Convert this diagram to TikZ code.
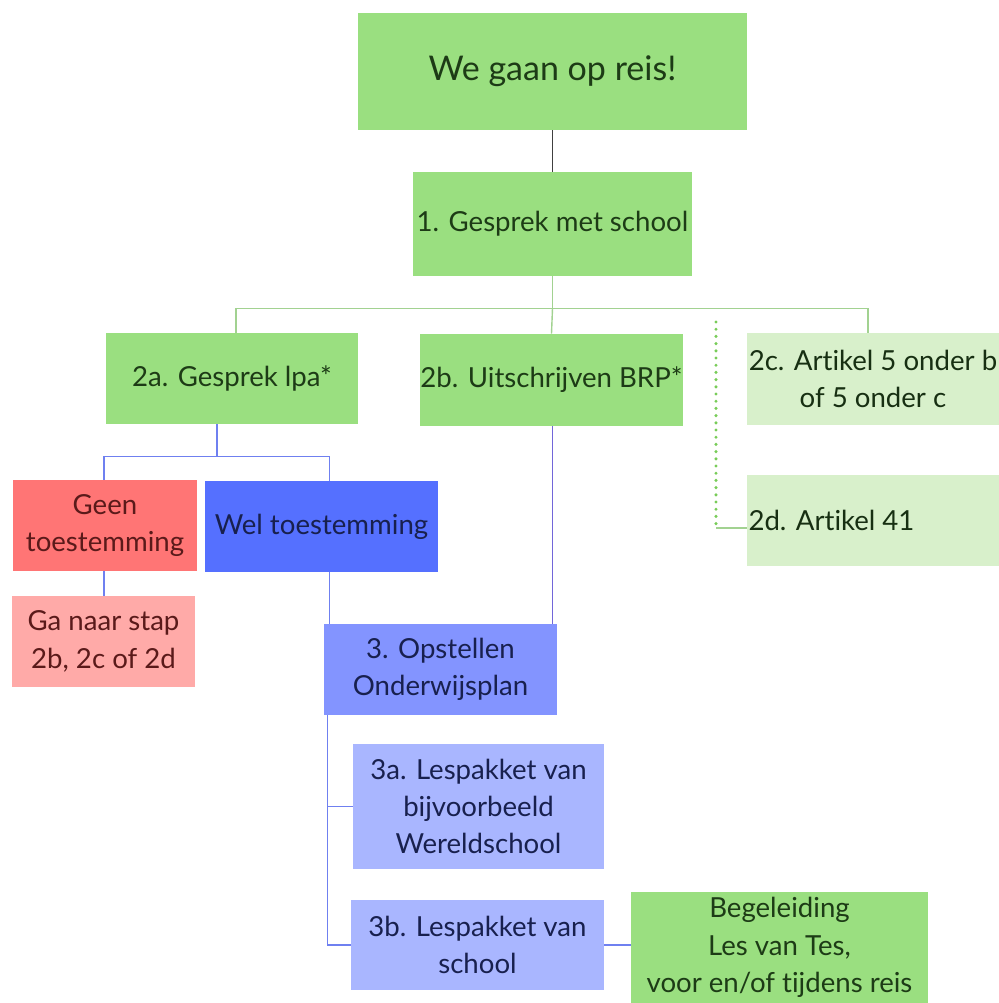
\documentclass[tikz,border=0pt]{standalone}
\usepackage{fontspec}
\setmainfont[Ligatures=NoCommon]{Lato}
\usepackage{tikz}
\usetikzlibrary{positioning,calc}
\usepackage{xcolor}

\definecolor{boxgreen}{HTML}{9ADF80}
\definecolor{palegreen}{HTML}{D8F0CB}
\definecolor{boxred}{HTML}{FF7575}
\definecolor{boxpink}{HTML}{FFAAA8}
\definecolor{boxblue}{HTML}{5570FF}
\definecolor{midblue}{HTML}{8394FF}
\definecolor{lightblue}{HTML}{A9B6FF}
\definecolor{txtgreen}{HTML}{1D3B16}
\definecolor{txtred}{HTML}{5A1A1A}
\definecolor{txtblue}{HTML}{18204E}
\definecolor{lnkgreen}{HTML}{A2D291}
\definecolor{lnkblue}{HTML}{6F80F0}
\definecolor{dotgreen}{HTML}{78CC58}

\tikzset{
  box/.style={rectangle, inner sep=0pt, align=center, font=\fontsize{13.8}{18.7}\selectfont},
  greenbox/.style={box, fill=boxgreen, text=txtgreen},
  paleboxx/.style={box, fill=palegreen, text=txtgreen!80!black},
  redbox/.style={box, fill=boxred, text=txtred},
  pinkbox/.style={box, fill=boxpink, text=txtred},
  bluebox/.style={box, fill=boxblue, text=txtblue},
  midbox/.style={box, fill=midblue, text=txtblue},
  lightbox/.style={box, fill=lightblue, text=txtblue},
  greenline/.style={draw=lnkgreen, line width=0.7pt},
  blueline/.style={draw=lnkblue, line width=0.7pt},
  dotline/.style={draw=dotgreen, line width=1.7pt, line cap=round, dash pattern=on 0pt off 3.6pt}
}

\begin{document}
\begin{tikzpicture}[x=0.5pt, y=-0.5pt]
  \useasboundingbox (0,0) rectangle (999,1003);

  % Start
  \node[greenbox, minimum width=194.5pt, minimum height=58.5pt,
        font=\fontsize{17}{20}\selectfont] (reis) at (552.5, 71.5) {We gaan op reis!};
  \node[greenbox, minimum width=139.5pt, minimum height=52pt] (gesprek) at (552.5, 224) {1. Gesprek met school};

  % Step 2
  \node[greenbox, minimum width=126pt, minimum height=45.5pt] (lpa) at (232, 378.5) {2a. Gesprek lpa*};
  \node[greenbox, minimum width=130.5pt, minimum height=46pt] (brp) at (551.5, 380) {2b. Uitschrijven BRP*};
  \node[paleboxx, minimum width=126pt, minimum height=46pt] (art5) at (873, 379) {2c. Artikel 5 onder b\\of 5 onder c};
  \node[paleboxx, minimum width=126pt, minimum height=45.5pt, text width=124.5pt, align=flush left] (art41) at (873, 520.5) {2d. Artikel 41};

  % Toestemming
  \node[redbox, minimum width=92pt, minimum height=45.5pt] (geen) at (105, 525.5) {Geen\\toestemming};
  \node[bluebox, minimum width=116.5pt, minimum height=45.5pt] (wel) at (321.5, 526.5) {Wel toestemming};
  \node[pinkbox, minimum width=91.5pt, minimum height=45.5pt] (ganaar) at (103.5, 641.5) {Ga naar stap\\2b, 2c of 2d};

  % Step 3
  \node[midbox, minimum width=116.5pt, minimum height=45.5pt] (opstel) at (440.5, 669.5) {3. Opstellen\\Onderwijsplan};
  \node[lightbox, minimum width=125.5pt, minimum height=62.5pt] (pakA) at (478.5, 806.5) {3a. Lespakket van\\bijvoorbeeld\\Wereldschool};
  \node[lightbox, minimum width=126.5pt, minimum height=45pt] (pakB) at (477.5, 945) {3b. Lespakket van\\school};
  \node[greenbox, minimum width=148.5pt, minimum height=55.5pt] (begel) at (779.5, 947.5) {Begeleiding\\Les van Tes,\\voor en/of tijdens reis};

  % Connectors
  \draw[draw=black!75, line width=0.7pt] (reis) -- (gesprek);
  \draw[greenline] (gesprek.south) -- ++(0,32) coordinate (split2);
  \draw[greenline] ([xshift=2pt]lpa.north) |- (split2) -| ([xshift=-2.5pt]art5.north);
  \draw[greenline] (split2) -- (brp.north);

  \coordinate (dtop) at (716,322);
  \coordinate (dcorner) at (716,528);
  \draw[dotline] (dtop) -- (dcorner);
  \draw[greenline] (dcorner) -- (dcorner -| art41.west);

  \draw[blueline] ([xshift=-7.5pt]lpa.south) -- ++(0,32) coordinate (split3);
  \draw[blueline] ([xshift=-0.5pt]geen.north) |- (split3) -| ([xshift=4pt]wel.north);
  \draw[blueline] ([xshift=-0.5pt]geen.south) -- ([xshift=-0.5pt]geen.south |- ganaar.north);
  \draw[blueline] ([xshift=4pt]wel.south) -- ([xshift=4pt]wel.south |- opstel.north);
  \draw[draw=lnkblue!80!violet, line width=0.7pt] ([xshift=0.5pt]brp.south) -- ([xshift=0.5pt]brp.south |- opstel.north);

  \draw[blueline] ([xshift=2pt]opstel.south west) |- (pakA.west);
  \draw[blueline] ([xshift=2pt]opstel.south west) |- (pakB.west);
  \draw[blueline] (pakB.east) -- (pakB.east -| begel.west);
\end{tikzpicture}
\end{document}
